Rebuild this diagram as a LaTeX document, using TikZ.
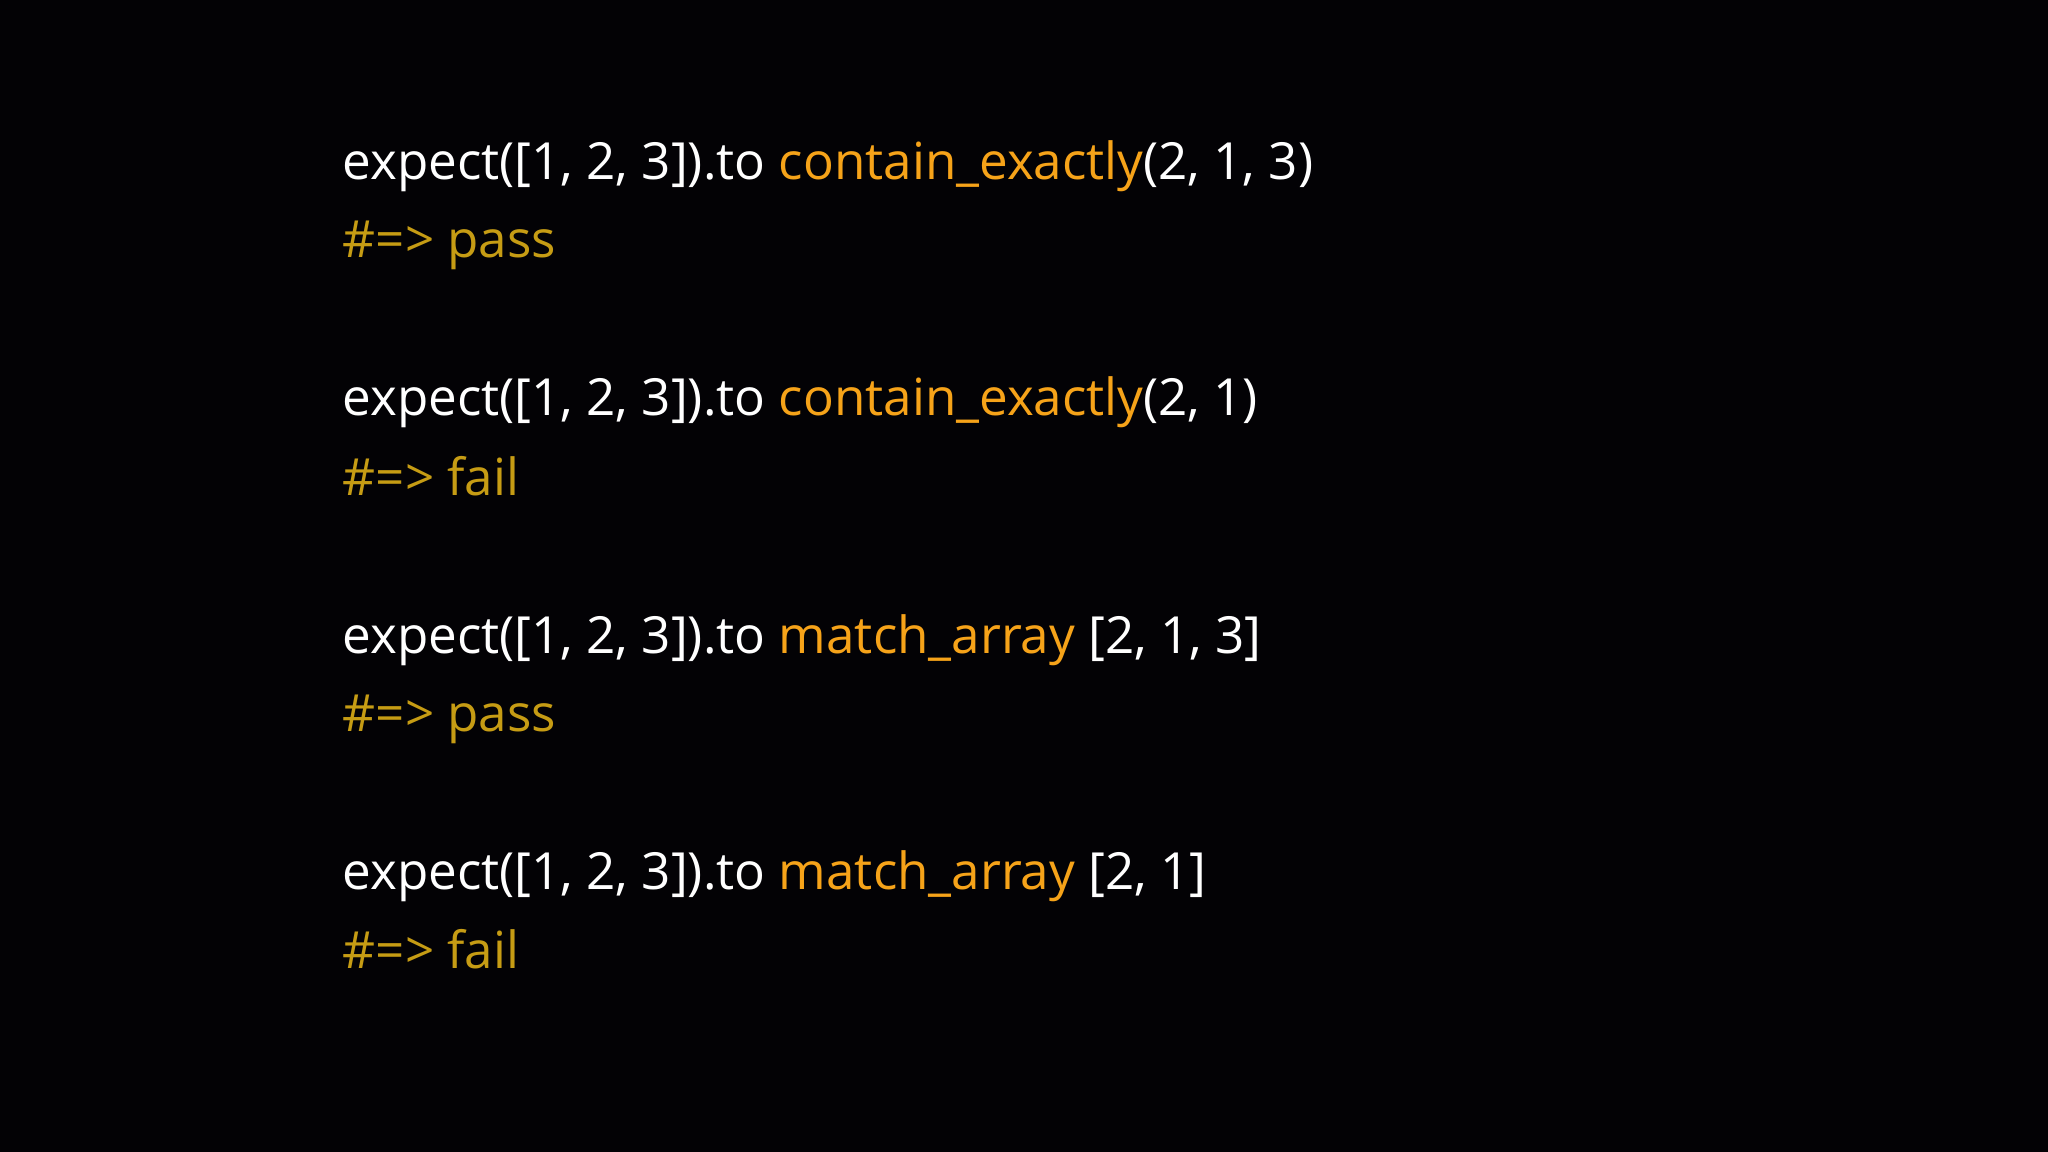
\documentclass[tikz,border=0pt]{standalone}
\usepackage{fontspec}
\setmainfont{Open Sans}
\definecolor{bg}{RGB}{3,2,5}
\definecolor{kw}{RGB}{246,163,25}
\definecolor{cm}{RGB}{198,156,20}
\tikzset{codeline/.style={anchor=base west,inner sep=0pt,text=white,font=\fontsize{14.55pt}{17pt}\selectfont}}
\begin{document}
\begin{tikzpicture}[x=0.01cm,y=-0.01cm]
\fill[bg] (0,0) rectangle (2048,1152);
\useasboundingbox (0,0) rectangle (2048,1152);
\node[codeline] (l1) at (342,180) {expect([1, 2, 3]).to \textcolor{kw}{contain\_exactly}(2, 1, 3)};
\node[codeline,text=cm] (r1) at (342,258) {\#=> pass};
\node[codeline] (l2) at (342,416) {expect([1, 2, 3]).to \textcolor{kw}{contain\_exactly}(2, 1)};
\node[codeline,text=cm] (r2) at (342,495) {\#=> fail};
\node[codeline] (l3) at (342,653) {expect([1, 2, 3]).to \textcolor{kw}{match\_array} [2, 1, 3]};
\node[codeline,text=cm] (r3) at (342,731) {\#=> pass};
\node[codeline] (l4) at (342,889) {expect([1, 2, 3]).to \textcolor{kw}{match\_array} [2, 1]};
\node[codeline,text=cm] (r4) at (342,968) {\#=> fail};
\end{tikzpicture}
\end{document}
